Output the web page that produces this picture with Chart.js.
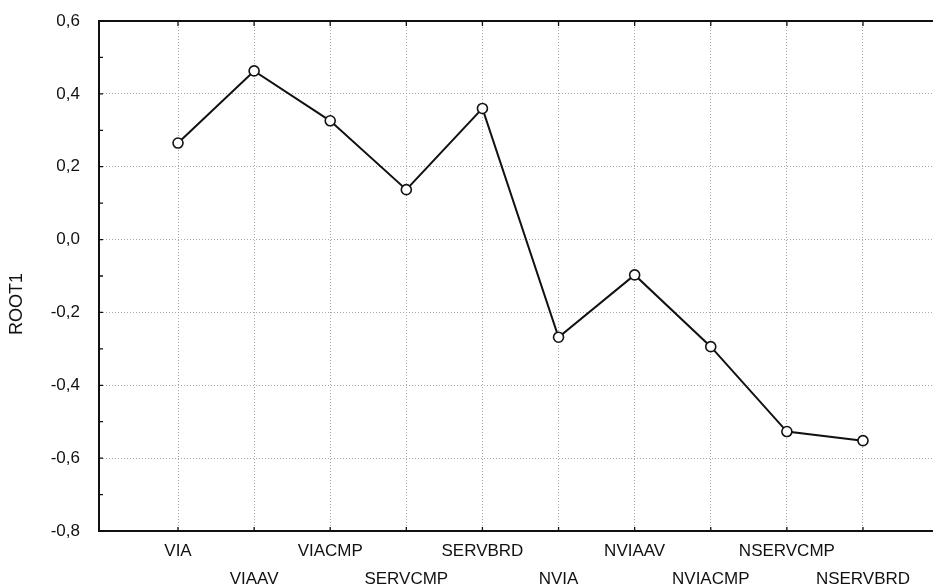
<!DOCTYPE html>
<html>
<head>
<meta charset="utf-8">
<script src="https://cdn.jsdelivr.net/npm/chart.js@4"></script>
<style>
html, body { margin: 0; padding: 0; background: #fff; overflow: hidden; }
#wrap { width: 933px; height: 587px; }
</style>
</head>
<body>
<div id="wrap"><canvas id="c"></canvas></div>
<script>
const categories = ['VIA', 'VIAAV', 'VIACMP', 'SERVCMP', 'SERVBRD', 'NVIA', 'NVIAAV', 'NVIACMP', 'NSERVCMP', 'NSERVBRD'];
const root1 = [0.265, 0.463, 0.326, 0.137, 0.36, -0.268, -0.097, -0.294, -0.527, -0.552];
const yTicks = [-0.8, -0.6, -0.4, -0.2, 0, 0.2, 0.4, 0.6];
const yTitle = 'ROOT1';

const ink = '#111';
const font = '"Liberation Sans", Arial, sans-serif';

// top border, inward ticks and the rotated axis title
const frame = {
    id: 'frame',
    afterDraw(chart) {
        const { ctx, chartArea: a, scales: { x, y } } = chart;
        ctx.save();
        ctx.strokeStyle = ink;
        ctx.lineWidth = 2;
        ctx.beginPath();
        ctx.moveTo(a.left - 1, a.top);
        ctx.lineTo(a.right, a.top);
        ctx.stroke();

        ctx.lineWidth = 1.3;
        ctx.beginPath();
        for (let i = 0; i <= 14; i++) {
            const py = y.getPixelForValue(-0.8 + i * 0.1);
            ctx.moveTo(a.left, py);
            ctx.lineTo(a.left + 4, py);
        }
        categories.forEach((_, i) => {
            const px = x.getPixelForValue(i);
            ctx.moveTo(px, a.top);
            ctx.lineTo(px, a.top + 5);
            ctx.moveTo(px, a.bottom);
            ctx.lineTo(px, a.bottom - 4);
        });
        ctx.stroke();

        ctx.translate(17, 304);
        ctx.rotate(-Math.PI / 2);
        ctx.font = '18px ' + font;
        ctx.fillStyle = ink;
        ctx.textAlign = 'center';
        ctx.textBaseline = 'middle';
        ctx.fillText(yTitle, 0, 0);
        ctx.restore();
    }
};

new Chart(document.getElementById('c'), {
    type: 'line',
    data: {
        datasets: [{
            data: root1.map((v, i) => ({ x: i, y: v })),
            borderColor: ink,
            borderWidth: 2,
            pointRadius: 5,
            pointBackgroundColor: '#fff',
            pointBorderColor: ink,
            pointBorderWidth: 1.6,
            tension: 0,
        }],
    },
    options: {
        responsive: true,
        maintainAspectRatio: false,
        animation: false,
        layout: { autoPadding: false, padding: { top: 21, left: 0, right: 0, bottom: 0 } },
        plugins: { legend: { display: false }, tooltip: { enabled: false } },
        scales: {
            x: {
                type: 'linear',
                min: -1.038,
                max: 9.92,
                afterBuildTicks: s => { s.ticks = categories.map((_, i) => ({ value: i })); },
                afterFit: s => { s.height = 56; },
                grid: { color: '#a8a8a8', lineWidth: 1, drawTicks: true, tickLength: 6, tickColor: 'rgba(0,0,0,0)' },
                border: { display: true, color: ink, width: 2, dash: [1, 2] },
                ticks: {
                    autoSkip: false,
                    maxRotation: 0,
                    padding: 0,
                    color: ink,
                    font: { family: font, size: 17, lineHeight: 1.65 },
                    callback: v => {
                        const i = Math.round(v);
                        return i % 2 ? ['', categories[i]] : categories[i];
                    },
                },
            },
            y: {
                min: -0.8,
                max: 0.6,
                afterBuildTicks: s => { s.ticks = yTicks.map(v => ({ value: v })); },
                afterFit: s => { s.width = 99; },
                grid: { color: '#a8a8a8', lineWidth: 1, drawTicks: true, tickLength: 19, tickColor: 'rgba(0,0,0,0)' },
                border: { display: true, color: ink, width: 2, dash: [1, 2] },
                ticks: {
                    padding: 0,
                    color: ink,
                    font: { family: font, size: 17 },
                    callback: v => v.toFixed(1).replace('.', ','),
                },
            },
        },
    },
    plugins: [frame],
});
</script>
</body>
</html>
